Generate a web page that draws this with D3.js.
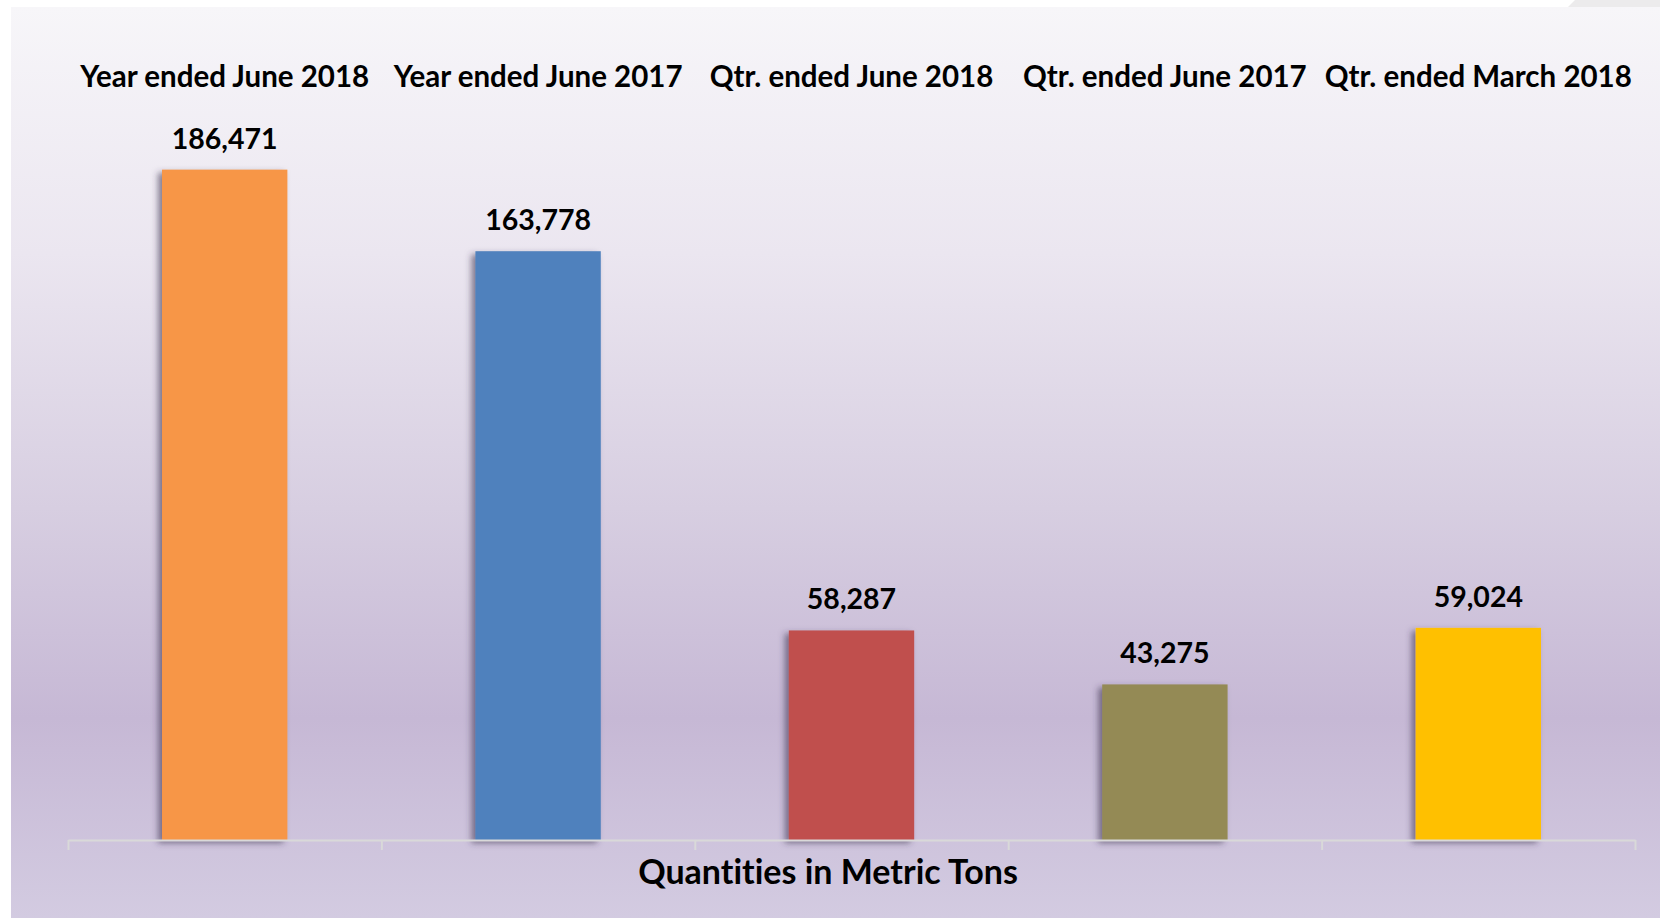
<!DOCTYPE html>
<html>
<head>
<meta charset="utf-8">
<script src="https://cdn.jsdelivr.net/npm/d3@7"></script>
<style>
  html, body { margin: 0; padding: 0; background: #fff; }
  svg { display: block; }
  text { font-family: Lato, "Open Sans", sans-serif; font-weight: bold; fill: #000; font-variant-ligatures: none; }
</style>
</head>
<body>
<svg id="chart" width="1660" height="918"></svg>
<script>
// data
const categories = ["Year ended June 2018", "Year ended June 2017", "Qtr. ended June 2018", "Qtr. ended June 2017", "Qtr. ended March 2018"];
const values = [186471, 163778, 58287, 43275, 59024];
const barColors = ["#F79646", "#4F81BD", "#C0504D", "#948A54", "#FFC000"];
const axisTitle = "Quantities in Metric Tons";

const W = 1660, H = 918;
const svg = d3.select("#chart");
const defs = svg.append("defs");

let grad = defs.append("linearGradient").attr("id", "bg").attr("x1", 0).attr("y1", 0).attr("x2", 0).attr("y2", 1);
[[0, "#f7f6f9"], [0.27, "#ebe6f0"], [0.55, "#d7cee1"], [0.78, "#c6b8d5"], [1, "#d3cbe1"]].forEach(s => {
	grad.append("stop").attr("offset", s[0]).attr("stop-color", s[1]);
});

let shadow = defs.append("filter").attr("id", "shadow")
	.attr("x", "-20%").attr("y", "-5%").attr("width", "140%").attr("height", "115%");
shadow.append("feDropShadow")
	.attr("dx", -4).attr("dy", 3).attr("stdDeviation", 3)
	.attr("flood-color", "#3b3150").attr("flood-opacity", 0.6);

// slide background
svg.append("rect").attr("x", 11).attr("y", 7).attr("width", W - 11).attr("height", H - 7).attr("fill", "url(#bg)");
svg.append("polygon").attr("points", "1568,7 1575,0 1660,0 1660,7").attr("fill", "#ecebec");

const x = d3.scaleBand().domain(categories).range([68, 1635]).paddingInner(0.6).paddingOuter(0.3);
const y = d3.scaleLinear().domain([0, 200000]).range([840, 121]);
const tickScale = d3.scaleLinear().domain([0, categories.length]).range(x.range());

// bars
svg.append("g").selectAll("rect").data(values).enter().append("rect")
	.attr("x", (d, i) => x(categories[i]))
	.attr("y", d => y(d))
	.attr("width", x.bandwidth())
	.attr("height", d => y(0) - y(d))
	.attr("fill", (d, i) => barColors[i])
	.attr("filter", "url(#shadow)");

// axis
const axis = svg.append("g").attr("transform", "translate(0," + y(0) + ")")
	.call(d3.axisBottom(tickScale).tickValues(d3.range(categories.length + 1)).tickFormat("").tickSize(10).tickSizeOuter(0));
axis.select(".domain").attr("stroke", "#d9d9d9").attr("stroke-width", 2);
axis.selectAll(".tick line").attr("stroke", "#d9d9d9").attr("stroke-width", 2);

// category labels across the top
svg.append("g").selectAll("text").data(categories).enter().append("text")
	.attr("x", d => x(d) + x.bandwidth() / 2)
	.attr("y", 87)
	.attr("text-anchor", "middle")
	.style("font-size", "29.5px")
	.text(d => d);

// value labels
svg.append("g").selectAll("text").data(values).enter().append("text")
	.attr("x", (d, i) => x(categories[i]) + x.bandwidth() / 2)
	.attr("y", d => y(d) - 21)
	.attr("text-anchor", "middle")
	.style("font-size", "28.5px")
	.text(d => d3.format(",")(d));

svg.append("text")
	.attr("x", 828).attr("y", 884)
	.attr("text-anchor", "middle")
	.style("font-size", "34px")
	.text(axisTitle);
</script>
</body>
</html>
